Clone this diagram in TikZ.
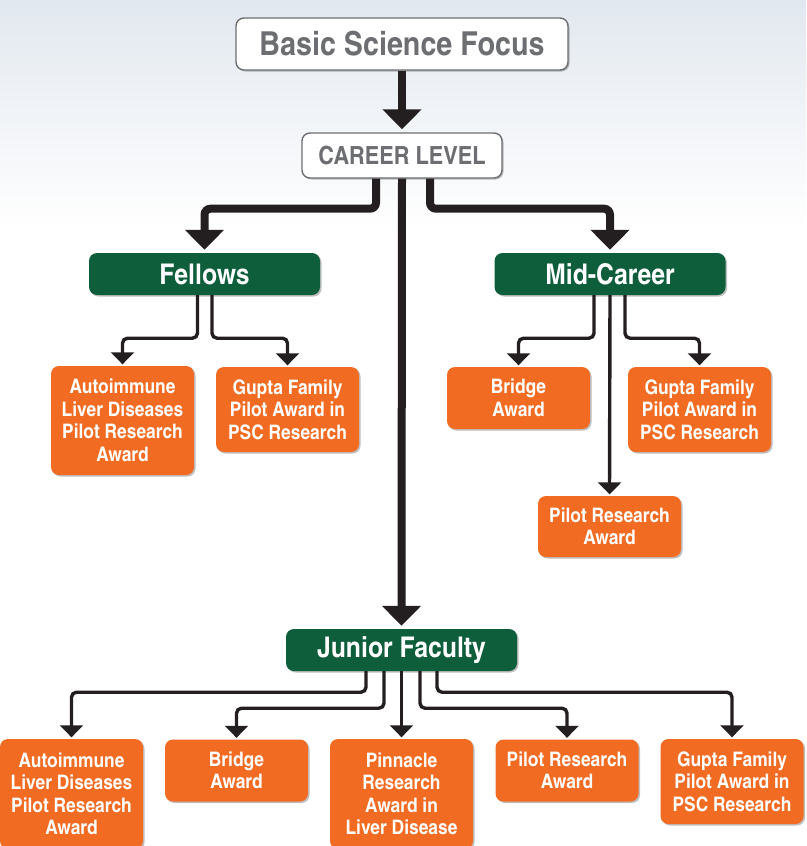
\documentclass[tikz,border=0pt]{standalone}
\usepackage{fontspec}
\setmainfont{texgyreheroscn}[Extension=.otf, UprightFont=*-regular, BoldFont=*-bold, FakeStretch=1.06]
\usetikzlibrary{arrows.meta,shadows}
\definecolor{dgreen}{HTML}{0E5E3C}
\definecolor{orng}{HTML}{F26B22}
\definecolor{ink}{HTML}{231F20}
\definecolor{gtext}{HTML}{6D6E71}
\definecolor{bgtop}{HTML}{E2E8EF}
\tikzset{
  shad/.style={drop shadow={shadow xshift=1.5pt, shadow yshift=-1.5pt, opacity=0.25, fill=black}},
  whitebox/.style={draw=gtext, line width=1.4pt, fill=white, rounded corners=8pt, text=gtext, inner sep=0pt, shad},
  greenbox/.style={fill=dgreen, rounded corners=8pt, text=white, inner sep=0pt, minimum width=231pt, minimum height=42pt, font=\bfseries\fontsize{28.5}{30}\selectfont, shad},
  award/.style={fill=orng, rounded corners=8pt, text=white, inner sep=0pt, minimum width=143pt, align=center, font=\bfseries\fontsize{20}{22.5}\selectfont, shad},
  bigarrow/.style={draw=ink, line width=8pt, -{Triangle[length=20pt,width=38pt]}, rounded corners=6pt, shorten >=3pt},
  smallarrow/.style={draw=ink, line width=3.4pt, -{Triangle[length=12pt,width=23pt]}, rounded corners=5pt, shorten >=1.5pt}
}
\begin{document}
\begin{tikzpicture}[x=1pt,y=-1pt]
\useasboundingbox (0,0) rectangle (806,846);
\fill[top color=bgtop, bottom color=white] (0,0) rectangle (806,230);
% nodes
\node[whitebox, minimum width=332pt, minimum height=52pt, font=\bfseries\fontsize{33}{36}\selectfont] (top) at (402,44) {Basic Science Focus};
\node[whitebox, minimum width=200pt, minimum height=45pt, font=\bfseries\fontsize{25}{28}\selectfont] (career) at (402,155.5) {CAREER LEVEL};
\node[greenbox] (fellows) at (204.5,274) {Fellows};
\node[greenbox] (mid) at (610,274) {Mid-Career};
\node[greenbox] (junior) at (401.5,650) {Junior Faculty};
% Fellows awards
\node[award, minimum height=109pt] (fa) at (122.5,420.5) {Autoimmune\\Liver Diseases\\Pilot Research\\Award};
\node[award, minimum height=85pt] (fg) at (287.5,409.5) {Gupta Family\\Pilot Award in\\PSC Research};
% Mid-career awards
\node[award, minimum height=62pt] (mb) at (518.5,398) {Bridge\\Award};
\node[award, minimum height=85pt] (mg) at (699.5,409.5) {Gupta Family\\Pilot Award in\\PSC Research};
\node[award, minimum height=61pt] (mp) at (609.5,526.5) {Pilot Research\\Award};
% Junior awards
\node[award, minimum height=110pt] (ja) at (71.5,794) {Autoimmune\\Liver Diseases\\Pilot Research\\Award};
\node[award, minimum height=62pt] (jb) at (236.5,770.5) {Bridge\\Award};
\node[award, minimum height=110pt] (jp) at (401.5,794) {Pinnacle\\Research\\Award in\\Liver Disease};
\node[award, minimum height=62pt] (jr) at (567,770.5) {Pilot Research\\Award};
\node[award, minimum height=85pt] (jg) at (732,781.5) {Gupta Family\\Pilot Award in\\PSC Research};
% big connectors
\draw[bigarrow] (top.south) -- (career.north);
\draw[bigarrow] ([xshift=-26pt]career.south) -- ++(0,30) -| (fellows.north);
\draw[bigarrow] ([xshift=28pt]career.south) -- ++(0,30) -| (mid.north);
\draw[bigarrow] (career.south) -- (junior.north);
% fellows connectors
\draw[smallarrow] ([xshift=-7pt]fellows.south) -- ++(0,43) -| (fa.north);
\draw[smallarrow] ([xshift=7.5pt]fellows.south) -- ++(0,43) -| (fg.north);
% mid connectors
\draw[smallarrow] ([xshift=-16pt]mid.south) -- ++(0,43) -| (mb.north);
\draw[smallarrow] (mid.south) -- (mp.north);
\draw[smallarrow] ([xshift=15pt]mid.south) -- ++(0,43) -| (mg.north);
% junior connectors
\draw[smallarrow] ([xshift=-35.5pt]junior.south) -- ++(0,21) -| (ja.north);
\draw[smallarrow] ([xshift=-17.5pt]junior.south) -- ++(0,37) -| (jb.north);
\draw[smallarrow] (junior.south) -- (jp.north);
\draw[smallarrow] ([xshift=18.5pt]junior.south) -- ++(0,37) -| (jr.north);
\draw[smallarrow] ([xshift=35.5pt]junior.south) -- ++(0,21) -| (jg.north);
\end{tikzpicture}
\end{document}
